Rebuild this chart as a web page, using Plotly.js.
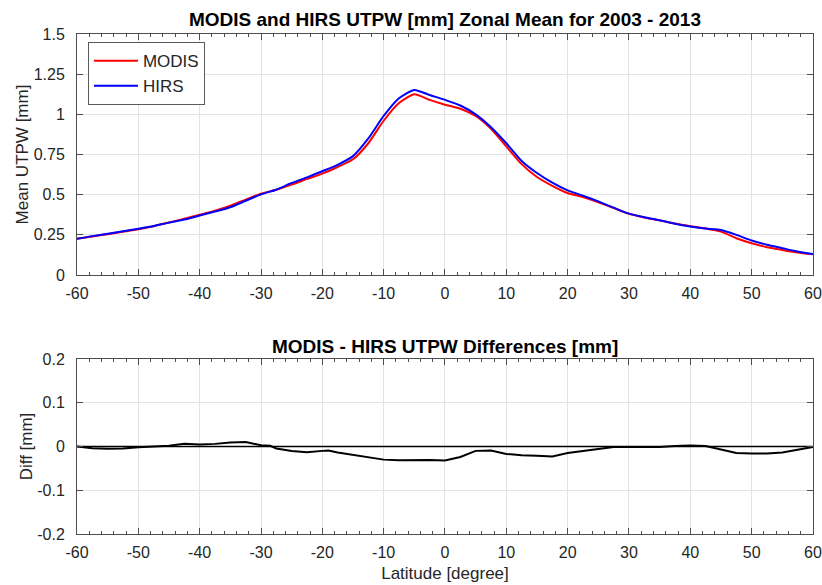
<!DOCTYPE html>
<html>
<head>
<meta charset="utf-8">
<script src="https://cdn.plot.ly/plotly-3.0.1.min.js"></script>
<style>html,body{margin:0;padding:0;background:#fff;}#chart{width:822px;height:585px;}</style>
</head>
<body>
<div id="chart"></div>
<script>
// Latitude grid (degrees)
const latitude = [-60,-57.5,-55,-52.5,-50,-47.5,-45,-42.5,-40,-37.5,-35,-32.5,-30,-27.5,-25,-22.5,-20,-17.5,-15,-12.5,-10,-7.5,-5,-2.5,0,2.5,5,7.5,10,12.5,15,17.5,20,22.5,25,27.5,30,32.5,35,37.5,40,42.5,45,47.5,50,52.5,55,57.5,60];
// Zonal mean UTPW [mm]
const modis = [0.225,0.24,0.254,0.269,0.285,0.304,0.327,0.35,0.375,0.40,0.431,0.469,0.506,0.531,0.5625,0.598,0.631,0.672,0.72,0.82,0.96,1.07,1.125,1.09,1.06,1.035,0.99,0.91,0.80,0.69,0.61,0.555,0.51,0.485,0.452,0.417,0.381,0.358,0.34,0.32,0.304,0.29,0.27,0.229,0.198,0.173,0.156,0.14,0.129];
const hirs  = [0.225,0.242,0.257,0.272,0.288,0.305,0.326,0.345,0.37,0.395,0.422,0.462,0.502,0.531,0.573,0.608,0.646,0.686,0.74,0.85,0.99,1.10,1.152,1.12,1.09,1.055,1.0,0.92,0.82,0.71,0.635,0.575,0.527,0.494,0.458,0.419,0.382,0.36,0.341,0.319,0.302,0.289,0.28,0.25,0.215,0.188,0.167,0.146,0.13];
// MODIS - HIRS differences [mm]
const diffLat = [-60,-57.5,-55,-52.5,-50,-47.5,-45,-42.5,-40,-37.5,-35,-32.5,-30,-28.5,-27.5,-25,-22.5,-20,-19,-17.5,-15,-12.5,-10,-7.5,-5,-2.5,0,2.5,5,7.5,10,12.5,15,17.5,20,22.5,25,27.5,30,32.5,35,37.5,40,42.5,45,47.5,50,52.5,55,57.5,60];
const diffVal = [0,-0.004,-0.005,-0.0045,-0.0015,0,0.0015,0.006,0.0045,0.006,0.009,0.01,0.003,0.0015,-0.0045,-0.0105,-0.013,-0.01,-0.009,-0.0135,-0.019,-0.026,-0.030,-0.0315,-0.031,-0.031,-0.032,-0.024,-0.01,-0.009,-0.017,-0.02,-0.021,-0.023,-0.015,-0.0105,-0.005,-0.001,-0.001,-0.0015,-0.001,0.001,0.002,0.001,-0.0075,-0.015,-0.016,-0.016,-0.0135,-0.008,-0.001];
const zeroLat = [-60, 60];
const zeroVal = [0, 0];
// Tick labels
const xTicks = [-60,-50,-40,-30,-20,-10,0,10,20,30,40,50,60];
const xTickLabels = ['-60','-50','-40','-30','-20','-10','0','10','20','30','40','50','60'];
const yTopTicks = [0,0.25,0.5,0.75,1,1.25,1.5];
const yTopLabels = ['0','0.25','0.5','0.75','1','1.25','1.5'];
const yBotTicks = [-0.2,-0.1,0,0.1,0.2];
const yBotLabels = ['-0.2','-0.1','0','0.1','0.2'];

const FONT = 'Liberation Sans, Arial, Helvetica, sans-serif';
const AX = '#4d4d4d';
const TXT = '#262626';

const traces = [
  {x: latitude, y: modis, name: 'MODIS', type: 'scatter', mode: 'lines', line: {color: '#ff0000', width: 2, shape: 'spline', smoothing: 0.6}, xaxis: 'x', yaxis: 'y'},
  {x: latitude, y: hirs, name: 'HIRS', type: 'scatter', mode: 'lines', line: {color: '#0000ff', width: 2, shape: 'spline', smoothing: 0.6}, xaxis: 'x', yaxis: 'y'},
  {x: zeroLat, y: zeroVal, type: 'scatter', mode: 'lines', line: {color: '#000', width: 1.5}, showlegend: false, xaxis: 'x2', yaxis: 'y2'},
  {x: diffLat, y: diffVal, type: 'scatter', mode: 'lines', line: {color: '#000', width: 2}, showlegend: false, xaxis: 'x2', yaxis: 'y2'}
];

function xAxis(anchor, withTitle) {
  const a = {
    domain: [0.0937, 0.989], range: [-60, 60], anchor: anchor,
    tickvals: xTicks, ticktext: xTickLabels, ticks: 'inside', ticklen: 6, tickcolor: AX,
    showline: true, linecolor: AX, linewidth: 1, mirror: 'allticks',
    showgrid: true, gridcolor: '#e3e3e3', gridwidth: 1, zeroline: false,
    tickfont: {family: FONT, size: 16, color: TXT}, ticklabelstandoff: 4,
    minor: {dtick: 2, ticks: 'inside', ticklen: 3, tickcolor: AX, showgrid: false}
  };
  if (withTitle) a.title = {text: 'Latitude [degree]', font: {family: FONT, size: 17, color: TXT}, standoff: 6};
  return a;
}

const layout = {
  width: 822, height: 585,
  margin: {l: 0, r: 0, t: 0, b: 0},
  paper_bgcolor: '#fff', plot_bgcolor: '#fff',
  showlegend: true,
  title: {text: '<b>MODIS and HIRS UTPW [mm] Zonal Mean for 2003 - 2013</b>', font: {family: FONT, size: 19, color: '#000'}, x: 0.5413, xanchor: 'center', y: 0.967, yanchor: 'middle'},
  legend: {x: 0.107, y: 0.928, xanchor: 'left', yanchor: 'top', bgcolor: '#fff', bordercolor: '#5a5a5a', borderwidth: 1, font: {family: FONT, size: 17, color: TXT}, itemwidth: 44, tracegroupgap: 0},
  xaxis: xAxis('y', false),
  yaxis: {
    domain: [0.5299, 0.9419], range: [0, 1.5], anchor: 'x',
    tickvals: yTopTicks, ticktext: yTopLabels, ticks: 'inside', ticklen: 6, tickcolor: AX,
    showline: true, linecolor: AX, linewidth: 1, mirror: 'allticks',
    showgrid: true, gridcolor: '#e3e3e3', zeroline: false,
    tickfont: {family: FONT, size: 16, color: TXT}, ticklabelstandoff: 8,
    title: {text: 'Mean UTPW [mm]', font: {family: FONT, size: 17, color: TXT}, standoff: 0}
  },
  xaxis2: xAxis('y2', true),
  yaxis2: {
    domain: [0.0872, 0.3863], range: [-0.2, 0.2], anchor: 'x2',
    tickvals: yBotTicks, ticktext: yBotLabels, ticks: 'inside', ticklen: 6, tickcolor: AX,
    showline: true, linecolor: AX, linewidth: 1, mirror: 'allticks',
    showgrid: true, gridcolor: '#e3e3e3', zeroline: false,
    tickfont: {family: FONT, size: 16, color: TXT}, ticklabelstandoff: 8,
    title: {text: 'Diff [mm]', font: {family: FONT, size: 17, color: TXT}, standoff: 0}
  },
  annotations: [
    {text: '<b>MODIS - HIRS UTPW Differences [mm]</b>', xref: 'paper', yref: 'paper', x: 0.5413, y: 0.407, xanchor: 'center', yanchor: 'middle', showarrow: false, font: {family: FONT, size: 19, color: '#000'}}
  ]
};

Plotly.newPlot('chart', traces, layout, {displayModeBar: false, staticPlot: true});
</script>
</body>
</html>
